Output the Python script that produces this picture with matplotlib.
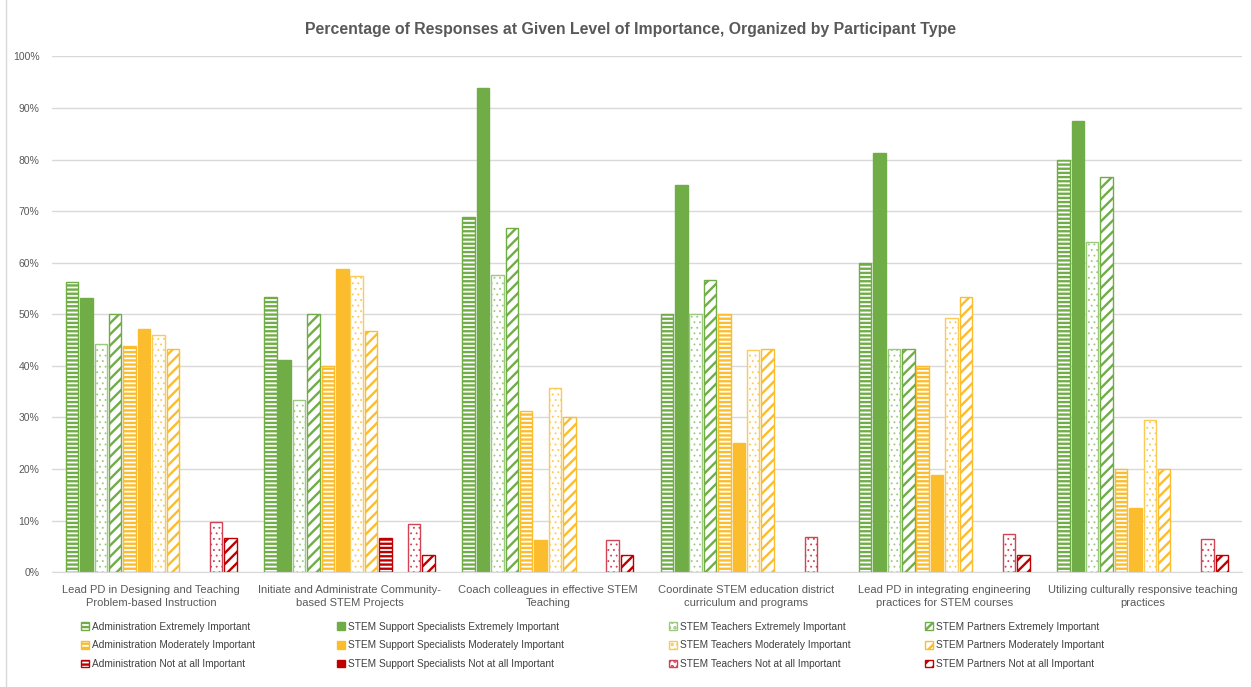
import numpy as np
import matplotlib
matplotlib.use("Agg")
import matplotlib.pyplot as plt
from matplotlib.patches import Patch
from matplotlib.lines import Line2D

plt.rcParams['font.family'] = ['Liberation Sans', 'DejaVu Sans']
plt.rcParams['hatch.linewidth'] = 1.7

# --- Data (percent of responses) ---
categories = [
    "Lead PD in Designing and Teaching\nProblem-based Instruction",
    "Initiate and Administrate Community-\nbased STEM Projects",
    "Coach colleagues in effective STEM\nTeaching",
    "Coordinate STEM education district\ncurriculum and programs",
    "Lead PD in integrating engineering\npractices for STEM courses",
    "Utilizing culturally responsive teaching\npractices",
]
participants = ["Administration", "STEM Support Specialists", "STEM Teachers", "STEM Partners"]
levels = ["Extremely Important", "Moderately Important", "Not at all Important"]

admin_ext = [56.3, 53.3, 68.8, 50.0, 60.0, 80.0]
sss_ext = [53.1, 41.2, 93.8, 75.0, 81.3, 87.5]
teach_ext = [44.3, 33.3, 57.6, 50.0, 43.3, 64.0]
partner_ext = [50.0, 50.0, 66.7, 56.7, 43.3, 76.7]

admin_mod = [43.8, 40.0, 31.3, 50.0, 40.0, 20.0]
sss_mod = [47.1, 58.8, 6.3, 25.0, 18.8, 12.5]
teach_mod = [45.9, 57.4, 35.8, 43.1, 49.3, 29.6]
partner_mod = [43.3, 46.7, 30.0, 43.3, 53.3, 20.0]

admin_not = [0.0, 6.7, 0.0, 0.0, 0.0, 0.0]
sss_not = [0.0, 0.0, 0.0, 0.0, 0.0, 0.0]
teach_not = [9.8, 9.3, 6.2, 6.9, 7.5, 6.4]
partner_not = [6.7, 3.3, 3.3, 0.0, 3.3, 3.3]

series = [
    ("Administration", "Extremely Important", admin_ext),
    ("STEM Support Specialists", "Extremely Important", sss_ext),
    ("STEM Teachers", "Extremely Important", teach_ext),
    ("STEM Partners", "Extremely Important", partner_ext),
    ("Administration", "Moderately Important", admin_mod),
    ("STEM Support Specialists", "Moderately Important", sss_mod),
    ("STEM Teachers", "Moderately Important", teach_mod),
    ("STEM Partners", "Moderately Important", partner_mod),
    ("Administration", "Not at all Important", admin_not),
    ("STEM Support Specialists", "Not at all Important", sss_not),
    ("STEM Teachers", "Not at all Important", teach_not),
    ("STEM Partners", "Not at all Important", partner_not),
]

level_colors = {"Extremely Important": "#70AD47",
                "Moderately Important": "#FBBD2D",
                "Not at all Important": "#C00000"}
# lighter outline for the dotted (teacher) bars
light_edges = {"Extremely Important": "#9CC97E",
               "Moderately Important": "#FCCB55",
               "Not at all Important": "#D04455"}
participant_hatch = {"Administration": "----",
                     "STEM Support Specialists": None,
                     "STEM Teachers": "...",
                     "STEM Partners": "///"}
hatch_lw = {"Administration": 1.7, "STEM Support Specialists": 1.7,
            "STEM Teachers": 0.6, "STEM Partners": 1.7}


def bar_style(who, level):
    c = level_colors[level]
    h = participant_hatch[who]
    if h is None:
        return dict(facecolor=c, edgecolor=c, hatch=None)
    if who == "STEM Teachers":
        c = light_edges[level]
    return dict(facecolor="white", edgecolor=c, hatch=h)


fig = plt.figure(figsize=(12.51, 6.87), dpi=100)
ax = fig.add_axes([0.0416, 0.167, 0.951, 0.751])

x = np.arange(len(categories))
slot = 0.0726
width = 0.063

for j, (who, level, vals) in enumerate(series):
    offs = (j - 5.5) * slot
    vals = np.array(vals) / 100.0
    keep = vals > 0
    with plt.rc_context({'hatch.linewidth': hatch_lw[who]}):
        ax.bar(x[keep] + offs, vals[keep], width=width, linewidth=1.0,
               **bar_style(who, level))

ax.set_xlim(-0.5, len(categories) - 0.5)
ax.set_ylim(0, 1.0)
yt = np.arange(0, 1.01, 0.1)
ax.set_yticks(yt)
ax.set_yticklabels([f"{int(round(v * 100))}%" for v in yt],
                   fontsize=7.5, color="#595959")
ax.set_xticks(x)
ax.set_xticklabels(categories, fontsize=8, color="#595959", linespacing=1.45)
ax.tick_params(axis="y", length=0, pad=9)
ax.tick_params(axis="x", length=0, pad=9)
ax.grid(axis="y", color="#D9D9D9", linewidth=1.0)
ax.set_axisbelow(True)
for s in ["top", "right", "left"]:
    ax.spines[s].set_visible(False)
ax.spines["bottom"].set_color("#D9D9D9")

fig.text(0.504, 0.957, "Percentage of Responses at Given Level of Importance, Organized by Participant Type",
         ha="center", va="center", fontsize=11.4, fontweight="bold", color="#595959")

# chart frame edge on the left
fig.add_artist(Line2D([0.005, 0.005], [0.0, 1.0], transform=fig.transFigure,
                      color="#D9D9D9", linewidth=1.0))

# one legend per participant, rows read by level
legend_x = [0.0645, 0.2695, 0.5345, 0.7395]
for who, lx in zip(participants, legend_x):
    with plt.rc_context({'hatch.linewidth': hatch_lw[who]}):
        handles = [Patch(linewidth=1.0, **bar_style(who, level)) for level in levels]
    labels = [f"{who} {level}" for level in levels]
    fig.legend(handles, labels, ncol=1, loc="upper left", bbox_to_anchor=(lx, 0.095),
               frameon=False, fontsize=7.3, labelcolor="#404040",
               handlelength=0.8, handleheight=0.8, handletextpad=0.3,
               labelspacing=0.85, borderaxespad=0, borderpad=0)

fig.savefig("out.png", dpi=100, facecolor="white")
